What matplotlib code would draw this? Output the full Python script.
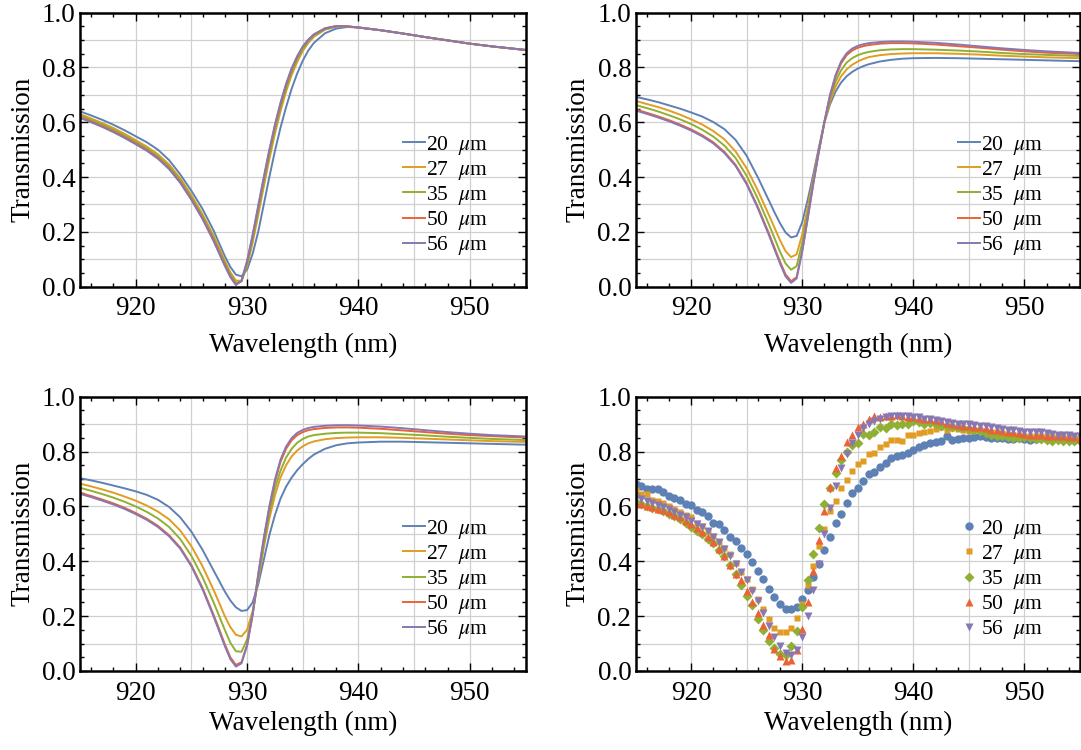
import numpy as np
import matplotlib
matplotlib.use("Agg")
import matplotlib.pyplot as plt
from matplotlib.ticker import MultipleLocator, FixedLocator

# ---------------- data ----------------
labels = ["20  $\\mu$m", "27  $\\mu$m", "35  $\\mu$m", "50  $\\mu$m", "56  $\\mu$m"]
colors = ["#5E81B5", "#E19C24", "#8FB032", "#EB6235", "#8778B3"]
markers = ["o", "s", "D", "^", "v"]
msizes = [6.0, 4.8, 5.0, 5.8, 5.8]

wl_sim = [915, 916, 917, 918, 919, 920, 921, 922, 923, 924, 925, 926, 927, 927.5,
          928, 928.5, 929, 929.5, 930, 930.5, 931, 931.5, 932, 932.5, 933, 933.5,
          934, 934.5, 935, 935.5, 936, 937, 938, 939, 940, 942, 944, 946, 948, 950,
          952, 955]

# panel (a): simulation 1
p1_20 = [.640, .625, .609, .591, .571, .549, .527, .500, .462, .410, .350, .284, .205, .158,
         .112, .072, .044, .038, .062, .120, .200, .300, .400, .495, .580, .655,
         .722, .778, .825, .862, .890, .925, .942, .948, .946, .936, .924, .911, .899, .887,
         .877, .864]
p1_27 = [.630, .614, .597, .579, .558, .535, .511, .483, .446, .396, .334, .265, .186, .140,
         .095, .053, .022, .022, .075, .160, .260, .365, .465, .558, .640, .712,
         .772, .820, .860, .890, .912, .938, .949, .950, .946, .936, .924, .911, .899, .887,
         .877, .864]
p1_35 = [.625, .609, .592, .573, .552, .529, .505, .476, .439, .389, .327, .257, .178, .132,
         .087, .045, .014, .020, .082, .172, .275, .380, .480, .572, .653, .724,
         .783, .830, .867, .895, .916, .940, .950, .950, .946, .936, .924, .911, .899, .887,
         .877, .864]
p1_50 = [.619, .603, .586, .567, .546, .523, .499, .470, .432, .382, .320, .250, .170, .125,
         .080, .038, .008, .020, .090, .185, .290, .395, .495, .587, .667, .736,
         .794, .839, .875, .901, .920, .943, .951, .950, .946, .936, .924, .911, .899, .887,
         .877, .864]
p1_56 = [.616, .600, .583, .564, .543, .520, .496, .467, .429, .379, .317, .247, .166, .121,
         .076, .035, .006, .022, .094, .190, .295, .400, .500, .591, .671, .740,
         .797, .841, .877, .902, .921, .943, .951, .950, .946, .936, .924, .911, .899, .887,
         .877, .864]

# panel (b): simulation 2
p2_20 = [.693, .684, .674, .662, .650, .636, .621, .601, .575, .536, .478, .400, .315, .272,
         .232, .198, .180, .185, .235, .318, .410, .508, .600, .665, .712, .745,
         .768, .784, .796, .805, .812, .822, .828, .832, .834, .835, .834, .832, .830, .828,
         .826, .823]
p2_27 = [.678, .667, .656, .643, .628, .611, .592, .568, .538, .494, .432, .352, .262, .216,
         .170, .130, .108, .118, .190, .290, .395, .500, .600, .675, .730, .768,
         .793, .810, .822, .831, .838, .845, .849, .851, .852, .852, .850, .847, .843, .840,
         .837, .834]
p2_35 = [.663, .652, .640, .626, .611, .594, .573, .548, .515, .470, .405, .322, .228, .178,
         .128, .085, .062, .075, .160, .270, .385, .495, .600, .685, .748, .790,
         .818, .834, .845, .852, .857, .863, .866, .867, .867, .865, .862, .858, .853, .849,
         .846, .842]
p2_50 = [.647, .635, .622, .608, .592, .574, .553, .527, .492, .445, .378, .292, .195, .143,
         .092, .045, .020, .035, .130, .250, .375, .492, .600, .695, .765, .815,
         .845, .862, .872, .878, .882, .887, .889, .889, .888, .884, .878, .872, .865, .859,
         .854, .849]
p2_56 = [.643, .631, .618, .604, .588, .570, .549, .523, .488, .441, .374, .287, .189, .137,
         .085, .038, .014, .030, .128, .250, .377, .495, .603, .700, .772, .822,
         .852, .869, .879, .885, .889, .893, .895, .895, .894, .890, .884, .877, .870, .864,
         .859, .853]

# panel (c): simulation 3
p3_20 = [.703, .695, .686, .676, .666, .655, .642, .624, .598, .560, .508, .442, .366, .328,
         .290, .257, .232, .219, .222, .250, .315, .405, .495, .568, .628, .672,
         .705, .732, .754, .773, .789, .810, .823, .830, .833, .836, .836, .834, .832, .830,
         .828, .825]
p3_27 = [.683, .673, .662, .650, .636, .621, .603, .581, .553, .512, .455, .382, .295, .248,
         .200, .160, .132, .126, .150, .218, .330, .450, .555, .640, .705, .750,
         .782, .804, .819, .830, .837, .845, .849, .851, .852, .852, .850, .847, .844, .841,
         .838, .835]
p3_35 = [.668, .657, .645, .632, .617, .600, .580, .556, .525, .481, .420, .342, .250, .200,
         .150, .103, .072, .070, .115, .208, .335, .460, .575, .665, .730, .778,
         .810, .832, .846, .855, .860, .865, .868, .869, .869, .867, .863, .859, .854, .850,
         .846, .842]
p3_50 = [.650, .638, .625, .611, .595, .576, .555, .529, .495, .450, .386, .303, .204, .152,
         .098, .050, .022, .032, .095, .205, .350, .480, .595, .690, .762, .810,
         .841, .860, .871, .878, .882, .886, .888, .888, .887, .883, .877, .871, .865, .860,
         .856, .851]
p3_56 = [.646, .634, .621, .607, .591, .572, .551, .525, .491, .446, .382, .298, .198, .145,
         .091, .043, .016, .028, .092, .205, .352, .485, .600, .697, .770, .818,
         .849, .868, .879, .886, .890, .894, .896, .896, .895, .891, .885, .878, .871, .865,
         .860, .855]

# panel (d): measurement, 0.5 nm steps from 915 to 955 nm
wl_exp = np.arange(915.0, 955.01, 0.5)
e_20 = [.681, .673, .663, .663, .665, .651, .639, .630, .623, .608,
        .605, .586, .580, .566, .541, .535, .515, .490, .474, .450,
        .425, .398, .365, .335, .298, .270, .246, .227, .225, .233,
        .262, .296, .343, .390, .440, .490, .541, .574, .614, .650,
        .667, .693, .718, .727, .745, .760, .776, .782, .788, .794,
        .805, .815, .825, .833, .836, .838, .858, .843, .846, .848,
        .850, .853, .855, .852, .850, .848, .850, .846, .845, .848,
        .847, .842, .845, .848, .846, .845, .848, .844, .846, .843,
        .845]
e_27 = [.660, .645, .645, .625, .620, .612, .600, .590, .578, .570,
        .562, .540, .528, .510, .492, .470, .450, .425, .395, .362,
        .335, .298, .262, .225, .190, .158, .142, .142, .158, .195,
        .245, .312, .382, .455, .517, .585, .620, .667, .696, .730,
        .754, .764, .790, .795, .818, .827, .842, .842, .840, .860,
        .860, .866, .873, .876, .884, .888, .880, .885, .884, .880,
        .876, .880, .878, .874, .872, .870, .868, .864, .860, .862,
        .858, .855, .858, .856, .857, .854, .852, .850, .852, .850,
        .848]
e_35 = [.615, .608, .602, .596, .590, .582, .574, .565, .555, .540,
        .525, .512, .498, .483, .465, .442, .418, .388, .352, .312,
        .272, .240, .190, .148, .110, .085, .063, .060, .092, .146,
        .235, .332, .426, .523, .610, .668, .722, .770, .800, .825,
        .832, .865, .862, .872, .890, .885, .902, .898, .900, .902,
        .912, .908, .900, .905, .900, .895, .892, .890, .888, .885,
        .882, .878, .875, .868, .860, .855, .858, .852, .850, .848,
        .852, .848, .845, .845, .842, .840, .842, .838, .840, .838,
        .840]
e_50 = [.612, .608, .603, .598, .592, .586, .578, .570, .560, .548,
        .535, .520, .505, .488, .470, .445, .420, .385, .355, .330,
        .290, .250, .210, .168, .130, .080, .055, .035, .040, .075,
        .152, .250, .365, .478, .584, .669, .740, .785, .835, .862,
        .888, .900, .920, .928, .925, .930, .930, .935, .930, .925,
        .925, .922, .920, .918, .915, .910, .905, .902, .898, .895,
        .893, .890, .888, .885, .880, .878, .875, .872, .870, .868,
        .865, .862, .860, .860, .858, .856, .855, .855, .853, .852,
        .845]
e_56 = [.632, .628, .620, .612, .605, .598, .590, .580, .570, .560,
        .548, .535, .525, .510, .490, .470, .445, .420, .390, .360,
        .330, .290, .255, .210, .165, .125, .090, .065, .058, .075,
        .125, .200, .295, .390, .500, .595, .675, .740, .790, .830,
        .860, .885, .902, .910, .918, .925, .930, .928, .930, .928,
        .925, .925, .920, .918, .915, .912, .908, .905, .902, .900,
        .900, .898, .895, .892, .890, .885, .882, .880, .878, .875,
        .872, .870, .872, .870, .868, .865, .862, .862, .860, .858,
        .855]

sim_panels = [[p1_20, p1_27, p1_35, p1_50, p1_56],
              [p2_20, p2_27, p2_35, p2_50, p2_56],
              [p3_20, p3_27, p3_35, p3_50, p3_56]]
exp_series = [e_20, e_27, e_35, e_50, e_56]

x_major = [920, 930, 940, 950]
x_grid = [920, 925, 930, 935, 940, 945, 950]
y_grid = [0.1, 0.2, 0.3, 0.4, 0.5, 0.6, 0.7, 0.8, 0.9]

# ---------------- style ----------------
plt.rcParams["font.family"] = ["Liberation Serif", "DejaVu Serif"]
plt.rcParams["mathtext.fontset"] = "stix"

W, H = 1081, 750
fig = plt.figure(figsize=(W / 100, H / 100), dpi=100)

def px_axes(left, top, right, bottom):
    return fig.add_axes([left / W, 1 - bottom / H, (right - left) / W, (bottom - top) / H])

boxes = [(80, 12.7, 525.5, 286.7), (635.5, 12.7, 1080, 286.7),
         (80, 396.7, 525.5, 671), (635.5, 396.7, 1080, 671)]
axes = [px_axes(*b) for b in boxes]

FS = 19.5
LFS = 15.5

def style(ax, xlabelpad):
    ax.set_xlim(915, 955)
    ax.set_ylim(0, 1)
    for g in x_grid:
        ax.axvline(g, color="#d0d0d0", lw=0.9, zorder=0)
    for g in y_grid:
        ax.axhline(g, color="#d0d0d0", lw=0.9, zorder=0)
    ax.xaxis.set_major_locator(FixedLocator(x_major))
    ax.xaxis.set_minor_locator(MultipleLocator(2))
    ax.yaxis.set_major_locator(MultipleLocator(0.2))
    ax.yaxis.set_minor_locator(MultipleLocator(0.05))
    ax.yaxis.set_major_formatter(matplotlib.ticker.FormatStrFormatter("%.1f"))
    ax.tick_params(which="both", direction="in", top=True, right=True,
                   labelsize=FS, width=1.0, colors="black")
    ax.tick_params(which="major", length=5.5, pad=7)
    ax.tick_params(which="minor", length=3)
    ax.tick_params(axis="y", which="major", pad=3)
    for s in ax.spines.values():
        s.set_linewidth(1.8)
        s.set_zorder(5)
    ax.set_xlabel("Wavelength (nm)", fontsize=FS, labelpad=xlabelpad)
    ax.set_ylabel("Transmission", fontsize=FS, labelpad=5)

xlabelpads = [8, 8, 3.5, 3.5]

for ax, series, lp in zip(axes[:3], sim_panels, xlabelpads):
    style(ax, lp)
    for y, c, lab in zip(series, colors, labels):
        ax.plot(wl_sim, y, color=c, lw=1.4, label=lab, solid_joinstyle="round")

ax = axes[3]
style(ax, xlabelpads[3])
for y, c, m, ms, lab in zip(exp_series, colors, markers, msizes, labels):
    ax.plot(wl_exp, y, linestyle="none", marker=m, ms=ms, color=c, mec="none", label=lab)

for ax in axes:
    leg = ax.legend(loc="center left", bbox_to_anchor=(0.7255, 0.333), frameon=False,
                    fontsize=LFS, handlelength=1.02, handletextpad=0.05,
                    labelspacing=0.1, borderpad=0, borderaxespad=0, numpoints=1)

fig.savefig("out.png", dpi=100)
